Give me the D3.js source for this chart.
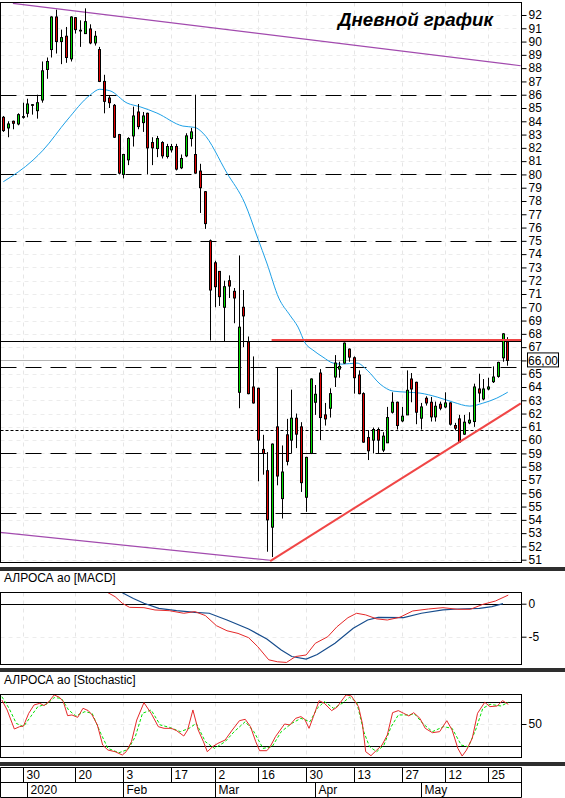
<!DOCTYPE html>
<meta charset="utf-8">
<title>АЛРОСА ао - Дневной график</title>
<style>
body { margin: 0; background: #fff; }
svg { display: block; font-family: "Liberation Sans Narrow", "Liberation Sans", Arial, sans-serif; }
</style>
<script src="https://d3js.org/d3.v7.min.js"></script>
<div id="chart"></div>
<script>

// daily candles, index 0 = first bar on the left
var opens = [84.3,83.5,84.0,83.8,84.3,84.6,85.2,84.8,85.6,87.9, 89.4,91.85,90.0,90.4,88.7,91.8,90.8,90.6,90.95,89.9,
  89.4,87.0,85.75,85.2,83.0,80.0,81.1,82.9,84.7,83.9, 84.6,82.4,81.95,82.4,81.35,81.85,82.1,80.5,81.4,82.7,
  81.5,80.25,78.7,75.0,73.35,72.7,70.0,72.0,71.2,63.6, 70.0,67.4,64.0,63.9,59.3,57.7,53.45,61.0,55.6,60.4,
  60.0,61.65,61.0,55.7,59.0,62.85,65.05,61.9,62.4,64.75, 65.35,65.8,66.85,66.2,64.9,63.5,60.2,60.0,60.8,59.25,
  59.8,62.1,62.85,61.45,61.9,64.6,64.35,61.65,63.15,62.85, 61.75,62.7,62.5,62.8,61.1,61.6,60.45,61.3,61.4,63.85,
  63.1,63.85,64.4,64.8,66.2,67.4];
var highs = [84.4,84.0,84.05,84.6,85.4,85.7,85.3,86.0,88.5,88.8, 91.9,92.4,90.9,91.1,91.9,91.85,91.6,92.5,91.3,90.8,
  89.6,87.5,85.9,85.3,83.05,81.55,82.8,85.1,85.3,84.7, 84.65,82.8,82.9,82.5,82.3,82.3,82.3,81.5,83.1,83.5,
  86.0,80.8,78.75,75.1,73.5,72.7,72.0,72.4,71.45,73.9, 71.3,67.8,66.3,63.95,60.4,59.1,59.75,65.5,59.6,61.6,
  63.8,62.0,61.35,58.75,64.65,64.15,65.35,62.8,63.9,66.4, 65.9,67.35,66.9,66.3,65.25,63.6,60.75,60.95,60.95,60.6,
  62.5,63.6,62.9,62.5,65.25,65.05,64.4,62.8,63.3,63.25, 62.9,62.9,63.6,62.85,61.3,61.9,61.9,62.1,64.25,65.0,
  64.6,64.7,65.55,65.9,68.05,67.75];
var lows = [83.2,82.8,83.4,83.7,84.2,84.3,84.5,84.2,85.4,87.2, 88.8,89.1,88.3,88.4,88.5,90.6,89.6,90.6,89.8,89.7,
  86.95,84.6,85.0,82.75,80.0,79.7,80.7,82.1,83.4,83.2, 80.0,80.7,81.3,81.2,81.2,81.65,80.3,80.4,81.3,82.1,
  80.05,77.1,75.9,67.5,70.0,70.1,67.45,70.7,68.8,62.4, 67.0,63.45,62.75,56.9,57.4,51.6,51.2,56.6,54.1,58.1,
  59.0,59.4,56.1,54.6,58.95,61.9,60.0,61.1,61.7,64.0, 64.7,65.75,65.9,63.5,63.45,59.8,58.5,59.0,59.0,59.1,
  59.8,62.0,60.8,61.35,61.9,62.85,61.2,60.8,62.6,61.4, 61.4,62.25,62.4,61.1,60.75,59.8,60.4,61.2,61.0,62.85,
  63.0,63.75,64.3,64.7,65.9,65.6];
var closes = [83.3,83.8,83.85,84.5,84.35,85.3,85.25,85.4,87.8,88.5, 91.85,90.0,90.3,88.8,91.85,90.9,90.85,91.5,89.9,90.4,
  87.0,85.5,85.4,82.8,80.1,81.5,82.7,84.4,83.6,84.4, 82.0,82.0,82.7,81.4,82.1,82.1,80.4,81.2,82.9,83.2,
  80.1,79.0,76.3,71.3,71.55,70.8,71.55,71.6,70.7,68.5, 69.35,63.5,62.8,60.0,59.0,54.0,59.7,57.3,57.6,58.4,
  61.65,60.45,56.8,58.7,64.6,63.45,61.7,61.6,63.5,65.8, 65.55,67.3,66.25,64.7,63.5,59.85,59.2,60.8,60.0,60.3,
  61.7,62.85,61.1,61.8,63.75,63.85,62.1,62.5,62.8,61.75, 62.55,62.4,62.8,61.2,60.9,59.85,61.35,61.5,64.0,63.55,
  63.85,64.0,64.75,65.85,68.0,66.0];

// moving average: [bar index, price]
var maPoints = [[0,79.45],[6.2,81.08],[8.3,81.83],[13.3,84.09],[18.1,85.98],[20.1,86.41],[22.2,86.3],[25.8,85.37],
  [28.5,85.09],[32,84.62],[37.4,83.64],[39.9,83.54],[41.6,83.11],[46.6,80.1],[50.3,77.84],[53,75.21],[54.9,73.33],
  [57.4,70.69],[59.7,69.41],[61.4,68.51],[62.9,67.3],[64.5,66.78],[66.6,66.25],[68.7,65.8],[70.6,65.72],[73.7,65.8],
  [75.8,65.27],[78.5,64.22],[81.2,63.69],[84.1,63.61],[86.8,63.54],[90.4,63.24],[93.7,62.86],[97.2,62.56],
  [99.9,62.78],[102.8,63.16],[105.1,63.61]];

// MACD panel: [bar index, value]
var macdLine = [[21.8,1.67],[23.3,1.06],[24.8,0.06],[26.3,-0.55],[29.3,-0.6],[31.6,-0.95],[34.6,-1.06],[37.6,-1.45],
  [39.9,-1.2],[42.1,-1.8],[44.4,-3.33],[46.6,-4.1],[48.9,-4.5],[51.1,-5.15],[53,-6.5],[55.3,-8.5],[57.1,-8.8],
  [59,-8.9],[60.9,-8.0],[63.1,-7.77],[65,-6.0],[67.6,-5.0],[69.5,-3.5],[71.8,-2.12],[73.6,-1.45],[75.5,-1.7],
  [77.8,-2.3],[80,-2.47],[82.6,-2.06],[85.3,-1.1],[88.6,-0.8],[91.6,-0.6],[94.7,-0.85],[97.3,-0.85],[99.9,-0.1],
  [102.5,0.4],[105.2,1.3]];
var macdSignal = [[24.8,1.67],[27.1,0.8],[29.3,0.06],[32.4,-0.7],[36.1,-1.06],[39.9,-1.3],[42.9,-1.45],[46.6,-2.47],
  [51.1,-3.83],[54.9,-5.35],[57.9,-7.0],[60.1,-8.0],[63.1,-8.4],[65.4,-7.7],[69.1,-6.0],[72.9,-3.73],[75.9,-2.47],
  [78.1,-2.06],[83.4,-2.12],[87.1,-1.45],[91.6,-0.95],[94.7,-0.8],[99.2,-0.7],[101.8,-0.45],[104.1,0.0]];

// Stochastic panel: [bar index, value]
var stochK = [[-0.3,83.2],[0.8,69.4],[2.3,43.1],[3.4,46.3],[4.2,47.2],[5.3,64.8],[6.4,76.3],[7.6,78.6],[8.5,75.4],
  [9.5,80.9],[10.6,90.2],[11.7,86.9],[12.5,80.9],[13.4,61.5],[14.3,62.5],[15.5,59.2],[16.6,71.7],[17.7,68.5],
  [18.5,62.5],[19.6,48.6],[20.7,20.9],[21.8,14.0],[23.3,11.7],[24.8,7.1],[25.6,11.7],[26.7,25.5],[27.8,55.5],
  [29.3,79.5],[30.8,64.8],[32.3,46.3],[33.5,44.0],[35,44.0],[36.1,40.8],[37.6,33.4],[38.4,41.7],[39.5,69.4],
  [40.6,41.7],[41.7,25.5],[42.5,11.7],[43.6,18.6],[44.7,23.2],[46.2,27.8],[47.7,41.7],[49.2,54.6],[50.4,56.5],
  [51.5,46.3],[52.6,25.5],[53.4,13.1],[54.9,13.1],[55.6,18.6],[56.7,32.5],[58.6,50.0],[59.7,48.6],[60.9,57.8],
  [62,60.2],[62.8,56.5],[63.7,44.0],[64.6,60.2],[65.8,82.3],[66.9,78.6],[68.4,68.5],[69.5,73.1],[70.6,83.2],
  [71.4,90.2],[72.5,88.8],[74,74.0],[74.8,50.9],[75.5,11.7],[76.6,6.2],[77.8,14.0],[78.9,20.9],[80,34.8],
  [81.1,65.7],[82.3,68.5],[83.4,64.8],[84.5,61.1],[85.5,65.7],[86.8,57.8],[87.9,44.0],[89.4,38.0],[90.9,39.4],
  [92.4,54.6],[93.5,41.7],[94.7,16.3],[95.6,5.7],[96.5,14.0],[97.7,30.2],[98.8,64.8],[100.3,80.0],[101.4,74.0],
  [102.9,74.9],[104,82.3],[105.2,77.2]];
var stochD = [[-0.3,87.8],[1.2,71.7],[2.7,50.9],[4.2,46.3],[5.7,60.2],[7.2,74.0],[9.1,77.7],[10.6,86.5],[12.1,85.5],
  [13.6,69.4],[15.1,61.1],[17,67.1],[18.5,64.8],[20.3,37.1],[21.8,16.3],[24.1,10.3],[26,14.9],[27.5,32.5],
  [29,64.8],[30.8,69.4],[32.7,48.6],[34.6,45.4],[36.9,39.4],[38.7,44.0],[40.2,50.9],[42.1,25.5],[44,16.3],
  [46.2,25.5],[48.1,39.4],[50.4,53.2],[52.2,39.4],[54.1,16.3],[56,18.6],[57.9,39.4],[60.1,50.9],[62,57.8],
  [63.9,53.2],[65.4,71.7],[66.9,80.9],[68.8,71.7],[70.6,78.6],[72.1,86.9],[73.6,80.9],[75.1,39.4],[76.3,18.6],
  [77.8,11.7],[79.3,20.9],[80.8,46.3],[82.3,62.5],[84.1,62.5],[85.7,63.8],[87.5,50.0],[89.4,39.4],[91.7,46.3],
  [93.5,44.0],[95.4,20.9],[96.9,18.6],[98.4,41.7],[99.9,71.7],[101.4,77.2],[103.7,74.9],[105.2,80.0]];

// horizontal levels and trend lines (prices)
var dashedLevels = [86, 80, 75, 65.5, 59, 54.5];
var dottedLevels = [60.73];
var solidLevel = 67.45;
var lastPrice = 66.0;
var resistance = {from: 55.9, price: 67.53};
var supportLine = [[55.6, 50.9], [107.8, 62.76]];
var upperChannel = [[2.0, 92.88], [107.8, 88.18]];
var lowerChannel = [[-0.7, 53.05], [55.6, 50.96]];

// date axis
var dayTicks = [[4,"30"],[15,"20"],[25,"3"],[35,"17"],[44,"2"],[53,"16"],[63,"30"],[73,"13"],[83,"27"],[92,"12"],[101,"25"]];
var monthTicks = [[5,"2020"],[25,"Feb"],[44,"Mar"],[65,"Apr"],[87,"May"]];

var width = 565, height = 798,
    left = 0.5, right = 521.5;
var panels = {
  main:  {top: 2.5, bottom: 562.5},
  macd:  {top: 592.5, bottom: 664.5},
  stoch: {top: 694.5, bottom: 757.5}
};

var green = "#00dc00", red = "#e00000";

var svg = d3.select("#chart").append("svg")
    .attr("width", width)
    .attr("height", height);

svg.append("rect").attr("width", width).attr("height", height).attr("fill", "#fff");

var x = d3.scaleLinear().domain([0, 105]).range([3.3, 507.3]);
var yP = d3.scaleLinear().domain([51, 92]).range([559.7, 15]);
var yM = d3.scaleLinear().domain([-5, 0]).range([636.7, 603.7]);
var yS = d3.scaleLinear().domain([20, 80]).range([745.7, 702.3]);

var defs = svg.append("defs");
Object.keys(panels).forEach(function (k) {
  var p = panels[k];
  defs.append("clipPath").attr("id", "clip-" + k)
    .append("rect").attr("x", left).attr("y", p.top)
    .attr("width", right - left).attr("height", p.bottom - p.top);
});

function panel(k) {
  return svg.append("g").attr("clip-path", "url(#clip-" + k + ")");
}

// ---------- grids ----------
function vGrid(g, p) {
  g.selectAll(".vgrid").data(dayTicks).enter().append("line")
    .attr("x1", function (d) { return Math.round(x(d[0])) + 0.5; })
    .attr("x2", function (d) { return Math.round(x(d[0])) + 0.5; })
    .attr("y1", p.top).attr("y2", p.bottom)
    .attr("stroke", "#e6e6e6").attr("stroke-dasharray", "4,4");
}

function hLine(g, y, v, color, dash, w) {
  return g.append("line")
    .attr("x1", left).attr("x2", right)
    .attr("y1", Math.round(y(v)) + 0.5).attr("y2", Math.round(y(v)) + 0.5)
    .attr("stroke", color).attr("stroke-width", w || 1)
    .attr("stroke-dasharray", dash);
}

// ---------- main panel ----------
var gMain = panel("main");
vGrid(gMain, panels.main);
d3.range(51, 93).forEach(function (v) { hLine(gMain, yP, v, "#ececec", "4,4"); });

dashedLevels.forEach(function (v) { hLine(gMain, yP, v, "#000", "16,9"); });
dottedLevels.forEach(function (v) { hLine(gMain, yP, v, "#000", "3,2"); });
hLine(gMain, yP, lastPrice, "#b4b4b4", null);
hLine(gMain, yP, solidLevel, "#000", null);

var trend = d3.line().x(function (d) { return x(d[0]); }).y(function (d) { return yP(d[1]); });

gMain.append("path").attr("d", trend(upperChannel)).attr("fill", "none").attr("stroke", "#a24aae").attr("stroke-width", 1.2);
gMain.append("path").attr("d", trend(lowerChannel)).attr("fill", "none").attr("stroke", "#a24aae").attr("stroke-width", 1.2);

gMain.append("path")
  .attr("d", d3.line().curve(d3.curveMonotoneX)
    .x(function (d) { return x(d[0]); }).y(function (d) { return yP(d[1]); })(maPoints))
  .attr("fill", "none").attr("stroke", "#1ea0e6").attr("stroke-width", 1);

// candles
var candles = gMain.selectAll(".candle").data(d3.range(opens.length)).enter().append("g");

candles.append("line")
  .attr("x1", function (i) { return Math.round(x(i)) + 0.5; })
  .attr("x2", function (i) { return Math.round(x(i)) + 0.5; })
  .attr("y1", function (i) { return yP(highs[i]); })
  .attr("y2", function (i) { return yP(lows[i]); })
  .attr("stroke", "#000");

candles.append("rect")
  .attr("x", function (i) { return Math.round(x(i)) - 1; })
  .attr("width", 3)
  .attr("y", function (i) { return Math.min(yP(opens[i]), yP(closes[i])) - 0.5; })
  .attr("height", function (i) { return Math.max(1.5, Math.abs(yP(opens[i]) - yP(closes[i])) + 1); })
  .attr("fill", "#000");

candles.append("rect")
  .attr("x", function (i) { return Math.round(x(i)); })
  .attr("width", 1)
  .attr("y", function (i) { return Math.min(yP(opens[i]), yP(closes[i])) + 0.5; })
  .attr("height", function (i) { return Math.max(0, Math.abs(yP(opens[i]) - yP(closes[i])) - 1); })
  .attr("fill", function (i) { return closes[i] >= opens[i] ? green : red; });

gMain.append("line")
  .attr("x1", x(resistance.from)).attr("x2", right)
  .attr("y1", yP(resistance.price)).attr("y2", yP(resistance.price))
  .attr("stroke", "#f04646").attr("stroke-width", 2);

gMain.append("path").attr("d", trend(supportLine)).attr("fill", "none")
  .attr("stroke", "#f04646").attr("stroke-width", 2);

svg.append("text")
  .attr("x", 338).attr("y", 26)
  .attr("textLength", 155).attr("lengthAdjust", "spacingAndGlyphs")
  .style("font-family", "'Liberation Sans', Arial, sans-serif")
  .style("font-weight", "bold").style("font-style", "italic")
  .style("font-size", "19px")
  .text("Дневной график");

// ---------- MACD panel ----------
var gMacd = panel("macd");
vGrid(gMacd, panels.macd);
hLine(gMacd, yM, -5, "#ececec", "4,4");
hLine(gMacd, yM, 0, "#000", null);

var lineM = d3.line().x(function (d) { return x(d[0]); }).y(function (d) { return yM(d[1]); });
gMacd.append("path").attr("d", lineM(macdSignal)).attr("fill", "none").attr("stroke", "#164c8c").attr("stroke-width", 1.2);
gMacd.append("path").attr("d", lineM(macdLine)).attr("fill", "none").attr("stroke", "#e42828").attr("stroke-width", 1);

// ---------- Stochastic panel ----------
var gSto = panel("stoch");
vGrid(gSto, panels.stoch);
hLine(gSto, yS, 50, "#ececec", "4,4");
hLine(gSto, yS, 80, "#000", null);
hLine(gSto, yS, 20, "#000", null);

var lineS = d3.line().x(function (d) { return x(d[0]); }).y(function (d) { return yS(d[1]); });
gSto.append("path").attr("d", lineS(stochD)).attr("fill", "none").attr("stroke", "#00e000")
  .attr("stroke-width", 1).attr("stroke-dasharray", "3,2");
gSto.append("path").attr("d", lineS(stochK)).attr("fill", "none").attr("stroke", "#e42828").attr("stroke-width", 1);

// ---------- frames, separators, titles ----------
Object.keys(panels).forEach(function (k) {
  var p = panels[k];
  svg.append("rect").attr("x", left).attr("y", p.top)
    .attr("width", right - left).attr("height", p.bottom - p.top)
    .attr("fill", "none").attr("stroke", "#000");
});

[567, 668, 762].forEach(function (y) {
  svg.append("rect").attr("x", 0).attr("y", y).attr("width", width).attr("height", 4).attr("fill", "#2e2e2e");
});

svg.append("text").attr("x", 4).attr("y", 582).style("font-size", "12px").text("АЛРОСА ао [MACD]");
svg.append("text").attr("x", 4).attr("y", 684).style("font-size", "12px").text("АЛРОСА ао [Stochastic]");

// ---------- right axes ----------
function rightAxis(scale, major, minor, fmt) {
  var g = svg.append("g").attr("transform", "translate(" + right + ",0)");
  g.call(d3.axisRight(scale).tickValues(minor).tickSize(3).tickFormat(""));
  g.call(d3.axisRight(scale).tickValues(major).tickSize(5).tickPadding(2).tickFormat(fmt));
  g.selectAll(".domain").remove();
  g.selectAll("text").attr("font-size", 12).attr("font-family", null).attr("fill", "#000");
  g.selectAll("line").attr("stroke", "#000");
  return g;
}

// the last-price tag covers the label at its own level
rightAxis(yP, d3.range(51, 93), d3.range(51.5, 93, 1),
  function (d) { return d === Math.round(lastPrice) ? "" : String(d); });
rightAxis(yM, [-5, 0], d3.range(-9, 2), function (d) { return String(d); });
rightAxis(yS, [50], d3.range(10, 100, 10), function (d) { return String(d); });

// last price tag
var tag = svg.append("g").attr("transform", "translate(527," + yP(lastPrice) + ")");
tag.append("rect").attr("x", 0.5).attr("y", -7.5).attr("width", 31).attr("height", 14)
  .attr("fill", "#fff").attr("stroke", "#000");
tag.append("text").attr("x", 16).attr("y", 4.5).attr("text-anchor", "middle")
  .style("font-size", "12px").text(d3.format(".2f")(lastPrice).replace(".", ","));

// ---------- date axis ----------
var axTop = 767.5, axMid = 782.5, axBot = 797.5;
var gDate = svg.append("g").attr("stroke", "#000");
[axTop, axMid, axBot].forEach(function (y) {
  gDate.append("line").attr("x1", left).attr("x2", right).attr("y1", y).attr("y2", y);
});
gDate.append("line").attr("x1", left).attr("x2", left).attr("y1", axTop).attr("y2", axBot);
gDate.append("line").attr("x1", right).attr("x2", right).attr("y1", axTop).attr("y2", axBot);

function cellX(d) { return Math.round(x(d[0])) + 0.5; }

gDate.selectAll(".day").data(dayTicks).enter().append("line")
  .attr("x1", cellX).attr("x2", cellX).attr("y1", axTop).attr("y2", axMid);
gDate.selectAll(".month").data(monthTicks).enter().append("line")
  .attr("x1", cellX).attr("x2", cellX).attr("y1", axMid).attr("y2", axBot);

svg.selectAll(".dayLabel").data(dayTicks).enter().append("text")
  .attr("x", function (d) { return cellX(d) + 3; }).attr("y", 779)
  .style("font-size", "12px").text(function (d) { return d[1]; });
svg.selectAll(".monthLabel").data(monthTicks).enter().append("text")
  .attr("x", function (d) { return cellX(d) + 3; }).attr("y", 794)
  .style("font-size", "12px").text(function (d) { return d[1]; });

</script>
